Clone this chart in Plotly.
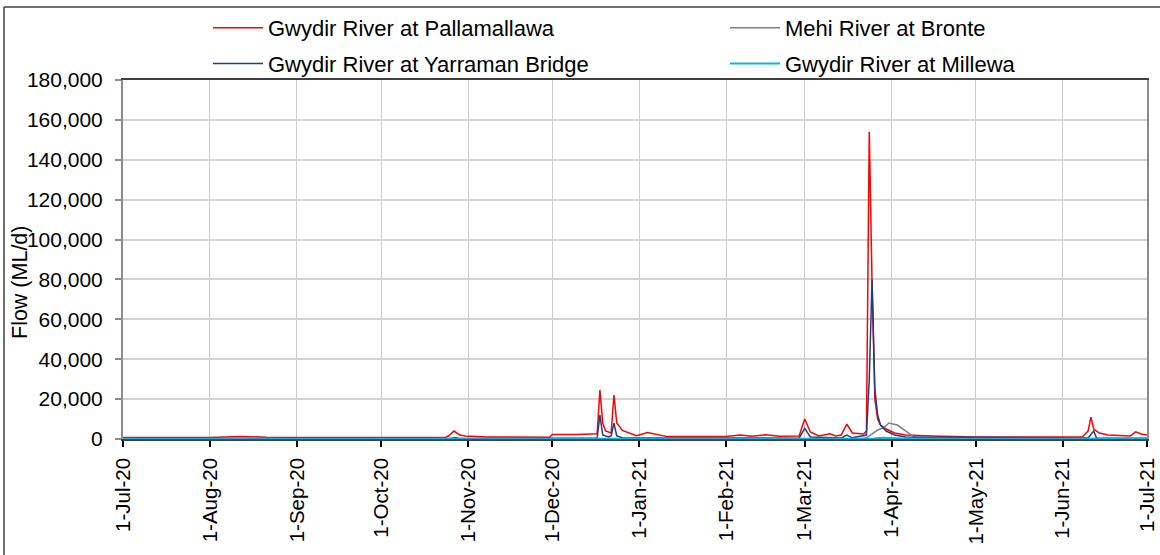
import plotly.graph_objects as go

# ---- data (ML/d), key points ----
pall_dates = ["2020-07-01", "2020-08-01", "2020-08-12", "2020-08-21", "2020-09-15", "2020-10-01",
              "2020-10-24", "2020-10-25", "2020-10-27", "2020-10-29", "2020-10-31", "2020-11-08",
              "2020-11-30", "2020-12-01", "2020-12-10", "2020-12-17", "2020-12-18", "2020-12-19",
              "2020-12-20", "2020-12-22", "2020-12-23", "2020-12-24", "2020-12-26", "2020-12-31",
              "2021-01-04", "2021-01-11", "2021-01-20", "2021-02-01", "2021-02-06", "2021-02-10",
              "2021-02-15", "2021-02-20", "2021-02-27", "2021-03-01", "2021-03-03", "2021-03-06",
              "2021-03-10", "2021-03-12", "2021-03-14", "2021-03-16", "2021-03-18", "2021-03-22",
              "2021-03-23", "2021-03-24", "2021-03-25", "2021-03-26", "2021-03-27", "2021-03-28",
              "2021-03-30", "2021-04-02", "2021-04-06", "2021-04-15", "2021-05-01", "2021-06-01",
              "2021-06-08", "2021-06-10", "2021-06-11", "2021-06-12", "2021-06-14", "2021-06-17",
              "2021-06-25", "2021-06-27", "2021-06-29", "2021-07-01"]
pall_vals = [800, 800, 1300, 900, 700, 800,
             900, 1500, 4000, 2000, 1500, 1000,
             900, 2200, 2200, 2600, 24500, 8000,
             4000, 3000, 22000, 8000, 4300, 1700,
             3200, 1200, 1100, 1300, 2000, 1400,
             2100, 1400, 1500, 10000, 3500, 1500,
             2600, 1500, 2000, 7500, 3000, 2500,
             4000, 154000, 78000, 20000, 10000, 7000,
             5000, 3000, 2000, 1500, 1000, 800,
             1100, 4000, 10900, 5000, 3000, 2000,
             1500, 3600, 2500, 2000]

bronte_dates = ["2020-07-01", "2021-03-21", "2021-03-23", "2021-03-27", "2021-03-29", "2021-03-31",
                "2021-04-03", "2021-04-06", "2021-04-09", "2021-04-15", "2021-07-01"]
bronte_vals = [100, 100, 600, 4500, 5500, 8000,
               7000, 4000, 1000, 300, 100]

yarr_dates = ["2020-07-01", "2020-10-26", "2020-10-27", "2020-10-29", "2020-12-17", "2020-12-18",
              "2020-12-19", "2020-12-21", "2020-12-22", "2020-12-23", "2020-12-24", "2020-12-26",
              "2021-02-27", "2021-03-01", "2021-03-03", "2021-03-14", "2021-03-16", "2021-03-18",
              "2021-03-23", "2021-03-24", "2021-03-25", "2021-03-26", "2021-03-27", "2021-03-28",
              "2021-03-30", "2021-04-02", "2021-04-06", "2021-06-10", "2021-06-12", "2021-06-13",
              "2021-07-01"]
yarr_vals = [300, 300, 800, 300, 500, 12000,
             2000, 1000, 1500, 8000, 1500, 600,
             400, 5300, 1000, 500, 2000, 600,
             2000, 30000, 80000, 25000, 12000, 7000,
             4000, 2000, 1000, 500, 4000, 500,
             400]

mill_dates = ["2020-07-01", "2021-03-25", "2021-03-28", "2021-04-05", "2021-07-01"]
mill_vals = [150, 150, 600, 200, 150]

months = ["2020-07-01", "2020-08-01", "2020-09-01", "2020-10-01", "2020-11-01", "2020-12-01",
          "2021-01-01", "2021-02-01", "2021-03-01", "2021-04-01", "2021-05-01", "2021-06-01",
          "2021-07-01"]
month_labels = ["1-Jul-20", "1-Aug-20", "1-Sep-20", "1-Oct-20", "1-Nov-20", "1-Dec-20",
                "1-Jan-21", "1-Feb-21", "1-Mar-21", "1-Apr-21", "1-May-21", "1-Jun-21",
                "1-Jul-21"]

FONT = "Liberation Sans"

fig = go.Figure()
fig.add_trace(go.Scatter(x=pall_dates, y=pall_vals, mode="lines", name="Gwydir River at Pallamallawa",
                         line=dict(color="#ff0000", width=1.5), legend="legend", legendgroup="a"))
fig.add_trace(go.Scatter(x=bronte_dates, y=bronte_vals, mode="lines", name="Mehi River at Bronte",
                         line=dict(color="#808080", width=1.5), legend="legend2", legendgroup="c"))
fig.add_trace(go.Scatter(x=yarr_dates, y=yarr_vals, mode="lines", name="Gwydir River at Yarraman Bridge",
                         line=dict(color="#1f3f7f", width=1.5), legend="legend", legendgroup="b"))
fig.add_trace(go.Scatter(x=mill_dates, y=mill_vals, mode="lines", name="Gwydir River at Millewa",
                         line=dict(color="#00b8f0", width=2), legend="legend2", legendgroup="d"))

L, R, T, B = 123, 13, 80, 116
W, H = 1160, 555
pw, ph = W - L - R, H - T - B

def px_x(p):
    return (p - L) / pw

def px_y(p):
    return (H - B - p) / ph

legend_common = dict(orientation="v", traceorder="grouped", tracegroupgap=4, itemwidth=50,
                     font=dict(family=FONT, size=22, color="#000"), bgcolor="rgba(0,0,0,0)",
                     xanchor="left", yanchor="top")

fig.update_layout(
    width=W, height=H,
    margin=dict(l=L, r=R, t=T, b=B, autoexpand=False),
    paper_bgcolor="white", plot_bgcolor="white",
    font=dict(family=FONT, size=20, color="#000"),
    showlegend=True,
    legend=dict(x=px_x(208), y=px_y(7), **legend_common),
    legend2=dict(x=px_x(725), y=px_y(7), **legend_common),
    xaxis=dict(type="date", range=["2020-07-01", "2021-07-01"], tickvals=months, ticktext=month_labels,
               tickangle=-90, showgrid=True, gridcolor="#cccccc", gridwidth=1, automargin=False,
               showline=True, linecolor="#404040", linewidth=1.5, mirror=True,
               ticks="outside", ticklen=6, tickcolor="#000", tickwidth=1.5, ticklabelstandoff=3,
               tickfont=dict(family=FONT, size=20.5, color="#000"), zeroline=False),
    yaxis=dict(range=[0, 180000], dtick=20000, tickformat=",", showgrid=True, gridcolor="#d4d4d4",
               gridwidth=1.5, showline=True, linecolor="#8c8c8c", linewidth=2, mirror=True,
               ticks="outside", ticklen=6, tickcolor="#8c8c8c", tickwidth=1.5, automargin=False,
               ticklabelstandoff=8,
               tickfont=dict(family=FONT, size=21, color="#000"), zeroline=False),
    annotations=[dict(text="Flow (ML/d)", textangle=-90, xref="paper", yref="paper",
                      x=px_x(20), y=px_y(283), xanchor="center", yanchor="middle", showarrow=False,
                      font=dict(family=FONT, size=21.5, color="#000"))],
    shapes=[
        dict(type="line", xref="paper", yref="paper", x0=px_x(4), x1=px_x(4), y0=px_y(7), y1=px_y(556),
             line=dict(color="#404040", width=1.5)),
        dict(type="line", xref="paper", yref="paper", x0=px_x(4), x1=px_x(1161), y0=px_y(7), y1=px_y(7),
             line=dict(color="#404040", width=1.5)),
    ],
)

fig.write_html("out.html", config={"displayModeBar": False},
               post_script="document.body.style.margin='0';")
